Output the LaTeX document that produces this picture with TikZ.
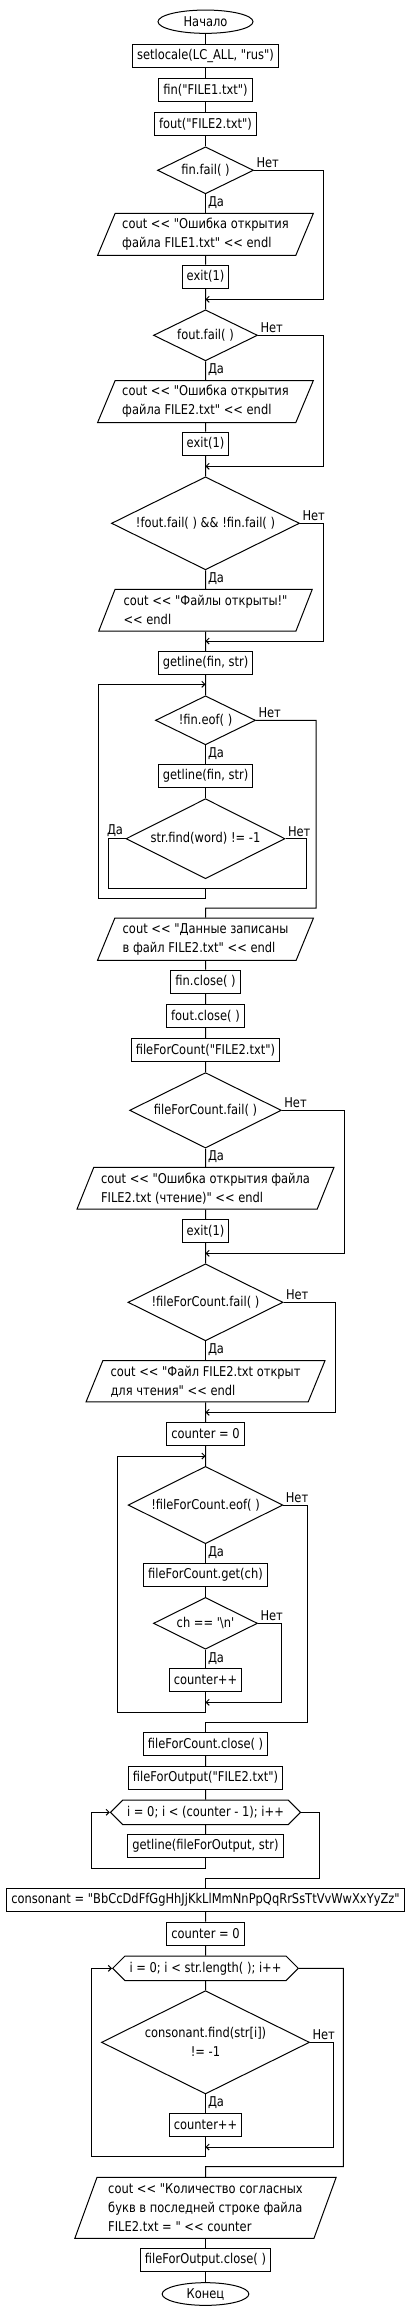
\documentclass[tikz,border=0pt]{standalone}
\usepackage{fontspec}
\setmainfont{DejaVu Sans}[FakeStretch=0.85,Ligatures=TeXOff]
\usetikzlibrary{shapes.geometric,shapes.symbols,arrows.meta}
\tikzset{>={Straight Barb[length=3pt,width=6pt]}}
\tikzset{
  proc/.style={draw, rectangle, minimum height=23pt, inner xsep=4.5pt, inner ysep=0pt},
  term/.style={draw, ellipse, inner sep=0pt},
  cond/.style={draw, diamond, aspect=2, inner sep=0pt},
  io/.style={draw, trapezium, trapezium left angle=63.4, trapezium right angle=116.6, trapezium stretches=true, align=left, inner sep=0pt},
  forloop/.style={draw, signal, signal to=east and west, signal pointer angle=90, inner sep=0pt, minimum height=24.5pt},
  lbl/.style={inner sep=2pt}
}

\begin{document}
\begin{tikzpicture}[x=1pt, y=-1pt, line width=1pt, font=\fontsize{13.5}{19}\selectfont]
  \useasboundingbox (0,0) rectangle (410,2316);
  % opening the two files
  \node[term, minimum width=95pt, minimum height=23.3pt] (start) at (205.5,21.7) {Начало};
  \node[proc] (setloc) at (205.5,55.8) {setlocale(LC\_ALL, "rus")};
  \node[proc] (openin) at (205.5,90) {fin("FILE1.txt")};
  \node[proc] (openout) at (205.5,124) {fout("FILE2.txt")};
  \node[cond, minimum width=96pt, minimum height=47pt] (chkin) at (205.5,170.3) {fin.fail( )};
  \node[io, minimum width=216pt, minimum height=42pt] (errin) at (205.5,234.3) {cout << "Ошибка открытия\\файла FILE1.txt" << endl};
  \node[proc] (exitin) at (205.5,276.7) {exit(1)};
  \coordinate (j1) at (205.5,299.3);
  \coordinate (r1) at (323.3,299.3);
  \node[cond, minimum width=104pt, minimum height=51pt] (chkout) at (205.5,335.3) {fout.fail( )};
  \node[io, minimum width=216pt, minimum height=42pt] (errout) at (205.5,401.5) {cout << "Ошибка открытия\\файла FILE2.txt" << endl};
  \node[proc] (exitout) at (205.5,443.7) {exit(1)};
  \coordinate (j2) at (205.5,466.3);
  \coordinate (r2) at (323.3,466.3);
  \node[cond, minimum width=188pt, minimum height=93pt] (chkboth) at (205.5,523.3) {!fout.fail( ) \&\& !fin.fail( )};
  \node[io, minimum width=214pt, minimum height=41.7pt] (okmsg) at (205.5,610.2) {cout << "Файлы открыты!"\\<< endl};
  \coordinate (j3) at (205.5,641);
  \coordinate (r3) at (323.3,641);
  % copying lines
  \node[proc] (readfirst) at (205.5,663) {getline(fin, str)};
  \coordinate (j4) at (205.5,684.3);
  \node[cond, minimum width=100pt, minimum height=49pt] (loopeof) at (205.5,720.3) {!fin.eof( )};
  \node[proc] (readnext) at (205.5,775.8) {getline(fin, str)};
  \node[cond, minimum width=159pt, minimum height=80pt] (findword) at (205.5,838.7) {str.find(word) != -1};
  \coordinate (fl) at (108.3,888);
  \coordinate (fr) at (306.7,888);
  \coordinate (fm) at (205.5,888);
  \coordinate (lb) at (98.3,898);
  \coordinate (r5) at (316,908);
  \coordinate (j5) at (205.5,908);
  \node[io, minimum width=216pt, minimum height=42.3pt] (donemsg) at (205.5,939.2) {cout << "Данные записаны\\в файл FILE2.txt" << endl};
  \node[proc] (closein) at (205.5,981.7) {fin.close( )};
  \node[proc] (closeout) at (205.5,1016) {fout.close( )};
  % counting lines
  \node[proc] (opencnt) at (205.5,1049.8) {fileForCount("FILE2.txt")};
  \node[cond, minimum width=151.7pt, minimum height=75.4pt] (chkcnt) at (205.5,1110.3) {fileForCount.fail( )};
  \node[io, minimum width=257.7pt, minimum height=41.7pt] (errcnt) at (205.5,1188.2) {cout << "Ошибка открытия файла\\FILE2.txt (чтение)" << endl};
  \node[proc] (exitcnt) at (205.5,1230.8) {exit(1)};
  \coordinate (j6) at (205.5,1253.3);
  \coordinate (r6) at (344.3,1253.3);
  \node[cond, minimum width=155pt, minimum height=77pt] (chkcnt2) at (205.5,1302.3) {!fileForCount.fail( )};
  \node[io, minimum width=239.3pt, minimum height=41.3pt] (okcnt) at (205.5,1381.3) {cout << "Файл FILE2.txt открыт\\для чтения" << endl};
  \coordinate (j7) at (205.5,1412.3);
  \coordinate (r7) at (335,1412.3);
  \node[proc] (zero1) at (205.5,1433.8) {counter = 0};
  \coordinate (j8) at (205.5,1456);
  \node[cond, minimum width=154.7pt, minimum height=77.3pt] (cnteof) at (205.5,1505) {!fileForCount.eof( )};
  \node[proc] (getch) at (205.5,1575) {fileForCount.get(ch)};
  \node[cond, minimum width=104pt, minimum height=51.7pt] (isnl) at (205.5,1623.3) {ch == '\textbackslash n'};
  \node[proc] (incnl) at (205.5,1679.8) {counter++};
  \coordinate (j9) at (205.5,1702.3);
  \coordinate (r9) at (281.7,1702.3);
  \coordinate (lb8) at (117.3,1712.3);
  \coordinate (r10) at (307,1722.3);
  \coordinate (j10) at (205.5,1722.3);
  \node[proc] (closecnt) at (205.5,1744) {fileForCount.close( )};
  % last line and consonants
  \node[proc] (openout2) at (205.5,1778) {fileForOutput("FILE2.txt")};
  \node[forloop, minimum width=190pt] (skiploop) at (205.5,1812.3) {i = 0; i < (counter - 1); i++};
  \node[proc] (skipline) at (205.5,1845.8) {getline(fileForOutput, str)};
  \coordinate (lb11) at (91.3,1868);
  \coordinate (r12) at (319.3,1878.3);
  \coordinate (j12) at (205.5,1878.3);
  \node[proc] (conset) at (205.5,1899.7) {consonant = "BbCcDdFfGgHhJjKkLlMmNnPpQqRrSsTtVvWwXxYyZz"};
  \node[proc] (zero2) at (205.5,1933.7) {counter = 0};
  \node[forloop, minimum width=185.7pt] (charloop) at (205.5,1968.3) {i = 0; i < str.length( ); i++};
  \node[cond, minimum width=208pt, minimum height=103.3pt, align=center] (iscons) at (205.5,2042.3) {consonant.find(str[i])\\!= -1};
  \node[proc] (inccons) at (205.5,2124.7) {counter++};
  \coordinate (j13) at (205.5,2147);
  \coordinate (r13) at (333.3,2147);
  \coordinate (lb14) at (91.3,2156.7);
  \coordinate (r15) at (343.3,2166.7);
  \coordinate (j15) at (205.5,2166.7);
  \node[io, trapezium left angle=67.5, trapezium right angle=112.5, minimum width=262pt, minimum height=61pt] (result) at (205.5,2207.8) {cout << "Количество согласных\\букв в последней строке файла\\FILE2.txt = " << counter};
  \node[proc] (closeres) at (205.5,2259.8) {fileForOutput.close( )};
  \node[term, minimum width=86.7pt, minimum height=22.7pt] (stop) at (205.5,2294) {Конец};

  \draw (start) -- (setloc) -- (openin) -- (openout) -- (chkin);
  \draw (chkin.south) node[lbl, anchor=north west] {Да} -- (errin);
  \draw (errin) -- (exitin) -- (chkout);
  \draw[->] (chkin.east) node[lbl, anchor=south west] {Нет} -| (r1) -- (j1);
  \draw (chkout.south) node[lbl, anchor=north west] {Да} -- (errout);
  \draw (errout) -- (exitout) -- (chkboth);
  \draw[->] (chkout.east) node[lbl, anchor=south west] {Нет} -| (r2) -- (j2);
  \draw (chkboth.south) node[lbl, anchor=north west] {Да} -- (okmsg);
  \draw (okmsg) -- (readfirst) -- (loopeof);
  \draw[->] (chkboth.east) node[lbl, anchor=south west] {Нет} -| (r3) -- (j3);
  \draw (loopeof.south) node[lbl, anchor=north west] {Да} -- (readnext);
  \draw (readnext) -- (findword);
  \draw (findword.west) node[lbl, anchor=south east] {Да} -| (fl) -- (fr) |- (findword.east) node[lbl, anchor=south west] {Нет};
  \draw[->] (fm) |- (lb) |- (j4);
  \draw (loopeof.east) node[lbl, anchor=south west] {Нет} -| (r5) -- (j5) -- (donemsg);
  \draw (donemsg) -- (closein) -- (closeout) -- (opencnt) -- (chkcnt);
  \draw (chkcnt.south) node[lbl, anchor=north west] {Да} -- (errcnt);
  \draw (errcnt) -- (exitcnt) -- (chkcnt2);
  \draw[->] (chkcnt.east) node[lbl, anchor=south west] {Нет} -| (r6) -- (j6);
  \draw (chkcnt2.south) node[lbl, anchor=north west] {Да} -- (okcnt);
  \draw (okcnt) -- (zero1) -- (cnteof);
  \draw[->] (chkcnt2.east) node[lbl, anchor=south west] {Нет} -| (r7) -- (j7);
  \draw (cnteof.south) node[lbl, anchor=north west] {Да} -- (getch);
  \draw (getch) -- (isnl);
  \draw (isnl.south) node[lbl, anchor=north west] {Да} -- (incnl);
  \draw[->] (isnl.east) node[lbl, anchor=south west] {Нет} -| (r9) -- (j9);
  \draw[->] (incnl) |- (lb8) |- (j8);
  \draw (cnteof.east) node[lbl, anchor=south west] {Нет} -| (r10) -- (j10) -- (closecnt);
  \draw (closecnt) -- (openout2) -- (skiploop) -- (skipline);
  \draw[->] (skipline) |- (lb11) |- (skiploop.west);
  \draw (skiploop.east) -| (r12) -- (j12) -- (conset);
  \draw (conset) -- (zero2) -- (charloop) -- (iscons);
  \draw (iscons.south) node[lbl, anchor=north west] {Да} -- (inccons);
  \draw[->] (iscons.east) node[lbl, anchor=south west] {Нет} -| (r13) -- (j13);
  \draw[->] (inccons) |- (lb14) |- (charloop.west);
  \draw (charloop.east) -| (r15) -- (j15) -- (result);
  \draw (result) -- (closeres) -- (stop);
\end{tikzpicture}
\end{document}
